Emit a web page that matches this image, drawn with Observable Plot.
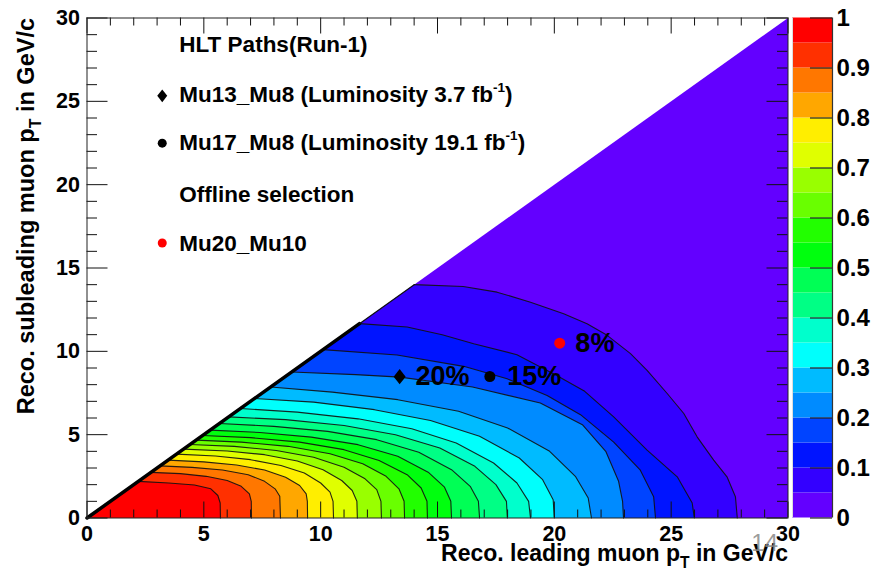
<!DOCTYPE html>
<html>
<head>
<meta charset="utf-8">
<script src="https://cdn.jsdelivr.net/npm/d3@7"></script>
<script src="https://cdn.jsdelivr.net/npm/@observablehq/plot@0.6"></script>
<style>
  html, body { margin: 0; padding: 0; background: #fff; }
  #wrap { position: relative; width: 871px; height: 571px; overflow: hidden; }
  #wrap svg { position: absolute; top: 0; }
</style>
</head>
<body>
<div id="wrap"></div>
<script>
// ---------------- data ----------------
const levels = [0.05, 0.10, 0.15, 0.20, 0.25, 0.30, 0.35, 0.40, 0.45, 0.50,
                0.55, 0.60, 0.65, 0.70, 0.75, 0.80, 0.85, 0.90, 0.95];
// ROOT "pretty" palette colours for the 20 bands 0-0.05 ... 0.95-1
const palette = ["#6300ff", "#3300ff", "#0014ff", "#0044ff", "#008bff", "#00bbff",
                 "#00fffc", "#00ffcc", "#00ff85", "#00ff55", "#00ff0e", "#22ff00",
                 "#69ff00", "#99ff00", "#e0ff00", "#ffee00", "#ffa700", "#ff7700",
                 "#ff3000", "#ff0000"];
const bandEdges = [0, 0.05, 0.1, 0.15, 0.2, 0.25, 0.3, 0.35, 0.4, 0.45, 0.5,
                   0.55, 0.6, 0.65, 0.7, 0.75, 0.8, 0.85, 0.9, 0.95, 1];

// contour lines (x, y) from the diagonal down to the x axis, one per level
const c05 = [[14.0,14.0],[16.1,13.89],[17.55,13.55],[18.98,12.95],[20.4,12.26],[21.4,11.66],[22.26,10.96],[23.26,9.86],[23.97,8.86],[24.83,7.47],[25.54,6.27],[26.11,4.87],[26.82,3.47],[27.39,2.47],[27.75,1.28],[27.83,0]];
const c10 = [[11.66,11.66],[13.7,11.46],[15.2,11.0],[16.55,10.46],[18.4,9.8],[20.1,8.55],[21.3,7.6],[22.54,6.07],[23.97,4.07],[25.26,2.47],[25.9,0.9],[25.99,0]];
const c15 = [[10.1,10.1],[13.27,9.78],[16.12,9.1],[17.98,8.35],[19.69,7.35],[21.12,6.2],[22.54,4.55],[23.68,2.87],[24.25,1.28],[24.33,0]];
const c20 = [[8.76,8.76],[11.5,8.6],[13.4,8.45],[16.5,7.86],[19.4,6.9],[21.2,5.6],[22.2,4.0],[22.75,2.2],[22.92,1.0],[22.96,0]];
const c25 = [[7.86,7.86],[10.5,7.55],[13.3,7.1],[15.9,6.4],[18.0,5.4],[19.8,4.0],[20.9,2.5],[21.45,1.2],[21.59,0]];
const c30 = [[7.17,7.17],[9.7,6.95],[12.3,6.5],[14.7,5.85],[16.8,4.9],[18.5,3.6],[19.5,2.3],[19.95,1.1],[20.0,0]];
const c35 = [[6.57,6.57],[9.0,6.35],[11.6,5.95],[13.9,5.35],[15.8,4.5],[17.4,3.3],[18.4,2.1],[18.9,1.0],[18.98,0]];
const c40 = [[6.07,6.07],[8.5,5.9],[11.0,5.55],[13.2,5.0],[15.1,4.2],[16.6,3.1],[17.5,2.0],[17.95,1.0],[17.99,0]];
const c45 = [[5.67,5.67],[8.0,5.5],[10.3,5.2],[12.4,4.7],[14.2,3.95],[15.6,2.9],[16.4,1.9],[16.75,1.0],[16.8,0]];
const c50 = [[5.27,5.27],[7.4,5.13],[9.6,4.85],[11.6,4.4],[13.3,3.7],[14.6,2.75],[15.3,1.85],[15.57,1.0],[15.6,0]];
const c55 = [[4.95,4.95],[7.0,4.82],[9.1,4.55],[11.0,4.1],[12.5,3.45],[13.7,2.6],[14.3,1.8],[14.55,1.0],[14.57,0]];
const c60 = [[4.67,4.67],[6.6,4.55],[8.6,4.3],[10.4,3.85],[11.8,3.25],[12.8,2.5],[13.35,1.75],[13.57,1.0],[13.59,0]];
const c65 = [[4.41,4.41],[6.3,4.3],[8.1,4.05],[9.7,3.65],[11.0,3.05],[11.9,2.35],[12.4,1.7],[12.58,1.0],[12.6,0]];
const c70 = [[4.13,4.13],[6.0,4.02],[7.6,3.8],[9.0,3.42],[10.1,2.9],[10.9,2.25],[11.35,1.65],[11.55,1.0],[11.57,0]];
const c75 = [[3.83,3.83],[5.5,3.72],[7.0,3.5],[8.3,3.15],[9.3,2.7],[10.0,2.1],[10.4,1.55],[10.53,1.0],[10.55,0]];
const c80 = [[3.47,3.47],[5.0,3.37],[6.4,3.18],[7.6,2.88],[8.5,2.45],[9.1,1.95],[9.38,1.45],[9.43,1.0],[9.44,0]];
const c85 = [[3.13,3.13],[4.5,3.04],[5.8,2.88],[6.9,2.6],[7.6,2.2],[8.05,1.75],[8.25,1.3],[8.28,0]];
const c90 = [[2.74,2.74],[4.0,2.66],[5.1,2.5],[6.0,2.25],[6.6,1.9],[6.95,1.45],[7.03,1.0],[7.04,0]];
const c95 = [[2.2,2.2],[3.5,2.1],[4.6,1.98],[5.3,1.75],[5.6,1.35],[5.7,0.9],[5.71,0]];
const contours = [c05, c10, c15, c20, c25, c30, c35, c40, c45, c50, c55, c60, c65, c70, c75, c80, c85, c90, c95];

// full kinematic region (subleading <= leading)
const region = [[0,0],[30,30],[30,0]];
// thick edge along the diagonal where the contours meet it
const diagEdge = [[0,0],[11.66,11.66]];
const diagThin = [[11.66,11.66],[14.0,14.0]];

// trigger / selection points and their efficiency labels
const pointNames = ["Mu13_Mu8", "Mu17_Mu8", "Mu20_Mu10"];
const pointX = [13.38, 17.24, 20.23];
const pointY = [8.48, 8.49, 10.49];
const pointLabels = ["20%", "15%", "8%"];
const labelX = [14.06, 17.98, 20.9];

// legend
const legendTexts = ["HLT Paths(Run-1)", "Mu13_Mu8 (Luminosity 3.7 fb^{-1})",
                     "Mu17_Mu8 (Luminosity 19.1 fb^{-1})", "Offline selection", "Mu20_Mu10"];
const legendY = [28.38, 25.39, 22.5, 19.4, 16.47];
const legendX = 3.95;
const legendMarkerX = 3.22;
const legendMarkerY = [25.33, 22.49, 16.5];

// axes
const xMajor = [0, 5, 10, 15, 20, 25, 30];
const yMajor = [0, 5, 10, 15, 20, 25, 30];
const minor = [1,2,3,4,6,7,8,9,11,12,13,14,16,17,18,19,21,22,23,24,26,27,28,29];
const cbTicks = [0, 0.1, 0.2, 0.3, 0.4, 0.5, 0.6, 0.7, 0.8, 0.9, 1];
const cbLabels = ["0", "0.1", "0.2", "0.3", "0.4", "0.5", "0.6", "0.7", "0.8", "0.9", "1"];
const xTitle = "Reco. leading muon p_{T} in GeV/c";
const yTitle = "Reco. subleading muon p_{T} in GeV/c";

// ---------------- layout ----------------
const W = 871, H = 571;
const mL = 86.5, mR = 83.5, mT = 17.5, mB = 53.5;
const innerW = W - mL - mR, innerH = H - mT - mB;
const FONT = "'Liberation Sans', Arial, Helvetica, sans-serif";

// ROOT-like diamond (taller than wide)
const diamond = {
  draw(ctx, size) {
    const r = Math.sqrt(size / Math.PI);
    ctx.moveTo(0, -1.28 * r);
    ctx.lineTo(r, 0);
    ctx.lineTo(0, 1.28 * r);
    ctx.lineTo(-r, 0);
    ctx.closePath();
  }
};

const X = d => d[0], Y = d => d[1];
const marks = [];
marks.push(Plot.line(region, {x: X, y: Y, fill: palette[0], stroke: "none"}));
contours.forEach((c, k) => {
  marks.push(Plot.line([[0, 0], ...c], {x: X, y: Y, fill: palette[k + 1], stroke: "none"}));
});
contours.forEach(c => {
  marks.push(Plot.line(c, {x: X, y: Y, stroke: "#111", strokeWidth: 1.1, strokeOpacity: 0.9}));
});
marks.push(Plot.line(diagEdge, {x: X, y: Y, stroke: "#000", strokeWidth: 3.5}));
marks.push(Plot.line(diagThin, {x: X, y: Y, stroke: "#111", strokeWidth: 1.2}));

// ticks inside the frame (ROOT style)
marks.push(Plot.ruleX(xMajor, {x: d => d, insetTop: innerH - 16, stroke: "#111"}));
marks.push(Plot.ruleX(xMajor, {x: d => d, insetBottom: innerH - 16, stroke: "#111"}));
marks.push(Plot.ruleX(minor, {x: d => d, insetTop: innerH - 8, stroke: "#111"}));
marks.push(Plot.ruleX(minor, {x: d => d, insetBottom: innerH - 8, stroke: "#111"}));
marks.push(Plot.ruleY(yMajor, {y: d => d, insetRight: innerW - 21, stroke: "#111"}));
marks.push(Plot.ruleY(yMajor, {y: d => d, insetLeft: innerW - 21, stroke: "#111"}));
marks.push(Plot.ruleY(minor, {y: d => d, insetRight: innerW - 10.5, stroke: "#111"}));
marks.push(Plot.ruleY(minor, {y: d => d, insetLeft: innerW - 10.5, stroke: "#111"}));
marks.push(Plot.frame({stroke: "#222"}));

// tick labels
marks.push(Plot.text(xMajor, {x: d => d, frameAnchor: "bottom", lineAnchor: "top", dy: 8,
  text: d => String(d), fontSize: 21.5, fontWeight: "bold", fontFamily: FONT, fill: "#000"}));
marks.push(Plot.text(yMajor, {y: d => d, frameAnchor: "left", textAnchor: "end", dx: -7,
  text: d => String(d), fontSize: 21.5, fontWeight: "bold", fontFamily: FONT, fill: "#000"}));

// axis titles
marks.push(Plot.text([xTitle], {frameAnchor: "bottom-right", textAnchor: "end", lineAnchor: "bottom",
  dy: 43, fontSize: 23, fontWeight: "bold", fontFamily: FONT, fill: "#000"}));
marks.push(Plot.text([yTitle], {frameAnchor: "top-left", textAnchor: "end", lineAnchor: "bottom",
  rotate: -90, dx: -53.5, fontSize: 23.5, fontWeight: "bold", fontFamily: FONT, fill: "#000"}));

// legend
marks.push(Plot.text(legendTexts, {x: legendX, y: (d, i) => legendY[i], textAnchor: "start",
  fontSize: 22.5, fontWeight: "bold", fontFamily: FONT, fill: "#000"}));
marks.push(Plot.dot([0], {x: legendMarkerX, y: legendMarkerY[0], symbol: diamond, r: 5, fill: "#000", stroke: "none"}));
marks.push(Plot.dot([0], {x: legendMarkerX, y: legendMarkerY[1], r: 4.5, fill: "#000", stroke: "none"}));
marks.push(Plot.dot([0], {x: legendMarkerX, y: legendMarkerY[2], r: 4.5, fill: "#ff0000", stroke: "none"}));

// trigger points and labels
marks.push(Plot.dot([0], {x: pointX[0], y: pointY[0], symbol: diamond, r: 6, fill: "#000", stroke: "none"}));
marks.push(Plot.dot([0], {x: pointX[1], y: pointY[1], r: 5.5, fill: "#000", stroke: "none"}));
marks.push(Plot.dot([0], {x: pointX[2], y: pointY[2], r: 5.5, fill: "#ff0000", stroke: "none"}));
marks.push(Plot.text(pointLabels, {x: (d, i) => labelX[i], y: (d, i) => pointY[i], textAnchor: "start",
  fontSize: 27, fontWeight: "bold", fontFamily: FONT, fill: "#000"}));

// slide page number showing through
marks.push(Plot.text(["14"], {frameAnchor: "bottom-right", textAnchor: "end", dx: -10, dy: 33,
  fontSize: 24, fontFamily: FONT, fill: "#8a8a8a", fillOpacity: 0.85}));

const main = Plot.plot({
  width: W, height: H,
  marginLeft: mL, marginRight: mR, marginTop: mT, marginBottom: mB,
  x: {domain: [0, 30], axis: null},
  y: {domain: [0, 30], axis: null},
  style: {fontFamily: FONT, background: "transparent", overflow: "visible"},
  marks
});

// colour bar
const cbar = Plot.plot({
  width: 85, height: H,
  marginLeft: 6, marginRight: 39, marginTop: mT, marginBottom: mB,
  x: {domain: [0, 1], axis: null},
  y: {domain: [0, 1], axis: null},
  color: {type: "identity"},
  style: {fontFamily: FONT, background: "transparent", overflow: "visible"},
  marks: [
    Plot.rect(palette, {x1: 0, x2: 1, y1: (d, i) => bandEdges[i], y2: (d, i) => bandEdges[i + 1], fill: d => d}),
    Plot.ruleY(cbTicks, {y: d => d, insetLeft: 40 - 22, stroke: "#222", strokeWidth: 1.2}),
    Plot.ruleX([1], {x: d => d, stroke: "#333", strokeWidth: 1.2}),
    Plot.ruleX([0], {x: d => d, stroke: "#ddd"}),
    Plot.text(cbTicks, {x: 1, y: d => d, text: (d, i) => cbLabels[i], textAnchor: "start", dx: 4,
      fontSize: 24, fontWeight: "bold", fontFamily: FONT, fill: "#000"})
  ]
});

const wrap = document.getElementById("wrap");
main.style.left = "0px";
cbar.style.left = "786px";
wrap.appendChild(main);
wrap.appendChild(cbar);

// rich text: ^{...} superscripts and _{...} subscripts as tspans
function richify(svg) {
  d3.select(svg).selectAll("text").each(function () {
    const s = this.textContent;
    if (!/[\^_]\{/.test(s)) return;
    const fs = parseFloat(getComputedStyle(this).fontSize) || 22;
    const parts = s.split(/([\^_]\{[^}]*\})/).filter(p => p !== "");
    const el = d3.select(this);
    el.text(null);
    let shift = 0;
    for (const p of parts) {
      let target = 0, size = null, txt = p;
      if (p.startsWith("^{")) { target = -0.45 * fs; size = 0.6 * fs; txt = p.slice(2, -1); }
      else if (p.startsWith("_{")) { target = 0.3 * fs; size = 0.68 * fs; txt = p.slice(2, -1); }
      const ts = el.append("tspan").attr("dy", target - shift).text(txt);
      if (size) ts.attr("font-size", size);
      shift = target;
    }
  });
}
richify(main);
</script>
</body>
</html>
